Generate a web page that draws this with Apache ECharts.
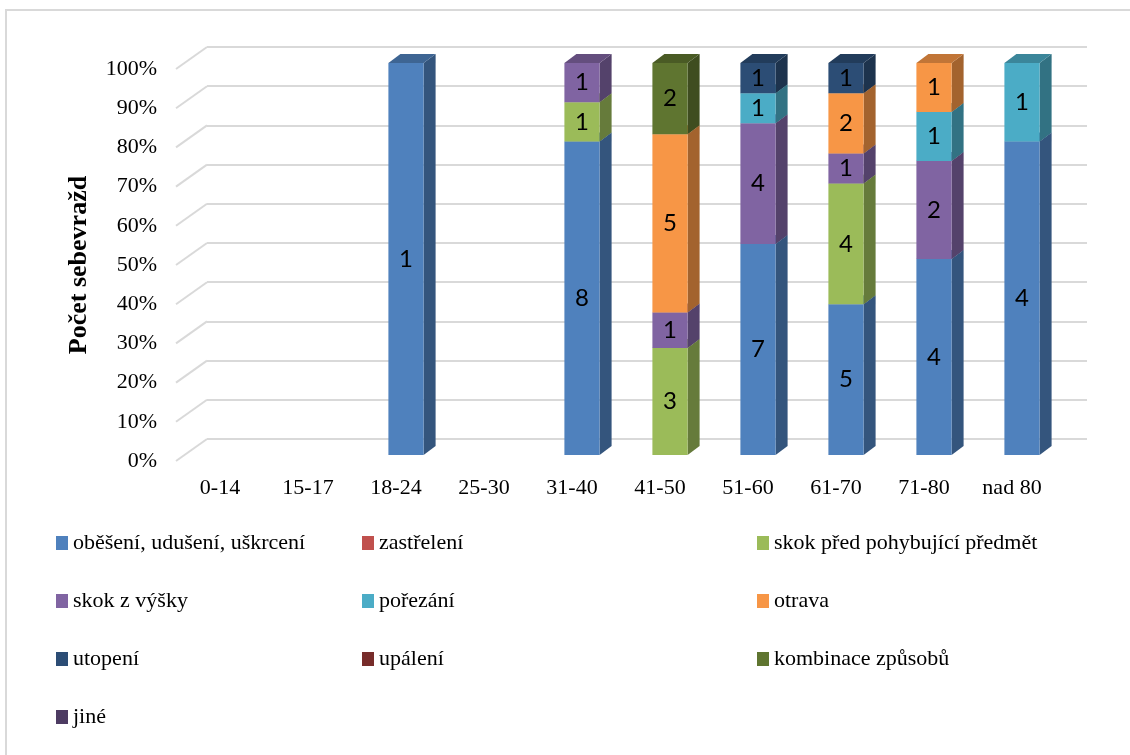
<!DOCTYPE html>
<html>
<head>
<meta charset="utf-8">
<script src="https://cdn.jsdelivr.net/npm/echarts@6/dist/echarts.min.js"></script>
<style>
  html, body { margin: 0; padding: 0; background: #fff; }
  #chart { width: 1130px; height: 755px; }
</style>
</head>
<body>
<div id="chart"></div>
<script>
// Age groups on the horizontal axis
const categories = ['0-14', '15-17', '18-24', '25-30', '31-40', '41-50', '51-60', '61-70', '71-80', 'nad 80'];

// Number of suicides per method and age group
const obeseni      = [0, 0, 1, 0, 8, 0, 7, 5, 4, 4];
const zastreleni   = [0, 0, 0, 0, 0, 0, 0, 0, 0, 0];
const skokPred     = [0, 0, 0, 0, 1, 3, 0, 4, 0, 0];
const skokZVysky   = [0, 0, 0, 0, 1, 1, 4, 1, 2, 0];
const porezani     = [0, 0, 0, 0, 0, 0, 1, 0, 1, 1];
const otrava       = [0, 0, 0, 0, 0, 5, 0, 2, 1, 0];
const utopeni      = [0, 0, 0, 0, 0, 0, 1, 1, 0, 0];
const upaleni      = [0, 0, 0, 0, 0, 0, 0, 0, 0, 0];
const kombinace    = [0, 0, 0, 0, 0, 2, 0, 0, 0, 0];
const jine         = [0, 0, 0, 0, 0, 0, 0, 0, 0, 0];

// Percentage axis ticks
const percentTicks = [0, 10, 20, 30, 40, 50, 60, 70, 80, 90, 100];

const methods = [
  { name: 'oběšení, udušení, uškrcení',   values: obeseni,    color: '#4F81BD' },
  { name: 'zastřelení',                   values: zastreleni, color: '#C0504D' },
  { name: 'skok před pohybující předmět', values: skokPred,   color: '#9BBB59' },
  { name: 'skok z výšky',                 values: skokZVysky, color: '#8064A2' },
  { name: 'pořezání',                     values: porezani,   color: '#4BACC6' },
  { name: 'otrava',                       values: otrava,     color: '#F79646' },
  { name: 'utopení',                      values: utopeni,    color: '#2C4D75' },
  { name: 'upálení',                      values: upaleni,    color: '#772C2A' },
  { name: 'kombinace způsobů',            values: kombinace,  color: '#5F7530' },
  { name: 'jiné',                         values: jine,       color: '#4D3B62' }
];

// Totals per age group: every column is stacked as shares of 100 %
const totals = categories.map((_, i) => methods.reduce((s, m) => s + m.values[i], 0));

function shade(hex, f) {
  const n = parseInt(hex.slice(1), 16);
  const r = Math.round(((n >> 16) & 255) * f);
  const g = Math.round(((n >> 8) & 255) * f);
  const b = Math.round((n & 255) * f);
  return 'rgb(' + r + ',' + g + ',' + b + ')';
}

// Pseudo-3D geometry (pixels)
const DEPTH_DX = 12, DEPTH_DY = -9;    // column depth
const WALL_DX = -31, WALL_DY = 22;     // floor depth from back wall to front edge
const BAR_WIDTH = '40%';

const serifFamily = 'Liberation Serif';

// Front faces: ordinary stacked bars, one series per method
const barSeries = methods.map(m => ({
  type: 'bar',
  name: m.name,
  stack: 'share',
  xAxisIndex: 2,
  yAxisIndex: 2,
  barWidth: BAR_WIDTH,
  z: 3,
  itemStyle: { color: m.color },
  data: m.values.map((v, i) => v > 0 ? v / totals[i] * 100 : null)
}));

// Segment extents [category, bottom %, top %, method index, count]
const segments = [];
{
  const cumulative = categories.map(() => 0);
  methods.forEach((m, k) => {
    categories.forEach((c, i) => {
      const v = m.values[i];
      if (v > 0) {
        const lo = cumulative[i] / totals[i] * 100;
        cumulative[i] += v;
        segments.push([i, lo, cumulative[i] / totals[i] * 100, k, v]);
      }
    });
  });
}

function segmentBox(api) {
  const cat = api.value(0);
  const pLo = api.coord([cat, api.value(1)]);
  const pHi = api.coord([cat, api.value(2)]);
  const w = api.size([1, 0])[0] * 0.4;
  const x0 = pLo[0] - w / 2;
  return { x0: x0, x1: x0 + w, yb: pLo[1], yt: pHi[1] };
}

// Side and top faces of every stacked segment (drawn behind the front faces)
const depthSeries = {
  type: 'custom',
  name: 'depth',
  silent: true,
  xAxisIndex: 2,
  yAxisIndex: 2,
  z: 2,
  encode: { x: 0, y: [1, 2] },
  data: segments,
  renderItem: function (params, api) {
    const b = segmentBox(api);
    const color = methods[api.value(3)].color;
    return {
      type: 'group',
      children: [
        { type: 'polygon',
          shape: { points: [[b.x1, b.yb], [b.x1, b.yt], [b.x1 + DEPTH_DX, b.yt + DEPTH_DY], [b.x1 + DEPTH_DX, b.yb + DEPTH_DY]] },
          style: { fill: shade(color, 0.66) } },
        { type: 'polygon',
          shape: { points: [[b.x0, b.yt], [b.x1, b.yt], [b.x1 + DEPTH_DX, b.yt + DEPTH_DY], [b.x0 + DEPTH_DX, b.yt + DEPTH_DY]] },
          style: { fill: shade(color, 0.78) } }
      ]
    };
  }
};

// Count labels in the middle of each segment's front face
const countLabelSeries = {
  type: 'custom',
  name: 'counts',
  silent: true,
  xAxisIndex: 2,
  yAxisIndex: 2,
  z: 4,
  encode: { x: 0, y: [1, 2] },
  data: segments,
  renderItem: function (params, api) {
    const b = segmentBox(api);
    return {
      type: 'text',
      x: (b.x0 + b.x1) / 2,
      y: (b.yb + b.yt) / 2,
      style: { text: String(api.value(4)), align: 'center', verticalAlign: 'middle',
               fontFamily: 'Lato', fontSize: 24, fill: '#000' }
    };
  }
};

// Diagonal floor lines joining the front edge with the back-wall gridlines
const wallSeries = {
  type: 'custom',
  name: 'wall',
  silent: true,
  xAxisIndex: 0,
  yAxisIndex: 0,
  z: 1,
  encode: { x: 0, y: 1 },
  data: percentTicks.map(t => [0, t]),
  renderItem: function (params, api) {
    const p = api.coord([0, api.value(1)]);
    const x = params.coordSys.x;
    return {
      type: 'line',
      shape: { x1: x, y1: p[1], x2: x + WALL_DX, y2: p[1] + WALL_DY },
      style: { stroke: '#d9d9d9', lineWidth: 2 }
    };
  }
};

// Legend: three columns filled row by row, swatch + serif label
const LEGEND_COLUMNS = [56, 362, 757];
const LEGEND_FIRST_ROW = 543, LEGEND_ROW_STEP = 58;
const legendEntries = methods.map((m, k) => {
  const x = LEGEND_COLUMNS[k % 3];
  const y = LEGEND_FIRST_ROW + Math.floor(k / 3) * LEGEND_ROW_STEP;
  return {
    type: 'group',
    silent: true,
    children: [
      { type: 'rect', shape: { x: x, y: y - 7, width: 12, height: 14 }, style: { fill: m.color } },
      { type: 'text', x: x + 17, y: y,
        style: { text: m.name, align: 'left', verticalAlign: 'middle',
                 fontFamily: serifFamily, fontSize: 22, fill: '#000' } }
    ]
  };
});

const option = {
  backgroundColor: '#fff',
  animation: false,
  grid: [
    { left: 207, top: 47, width: 880, height: 392 },   // back wall
    { left: 176, top: 69, width: 880, height: 392 },   // front edge of the floor
    { left: 186, top: 63, width: 880, height: 392 }    // front faces of the columns
  ],
  xAxis: [
    { type: 'category', gridIndex: 0, data: categories, show: false },
    { type: 'category', gridIndex: 1, data: categories,
      axisLine: { show: false }, axisTick: { show: false },
      axisLabel: { margin: 16, fontFamily: serifFamily, fontSize: 22, color: '#000' } },
    { type: 'category', gridIndex: 2, data: categories, show: false }
  ],
  yAxis: [
    { type: 'value', gridIndex: 0, min: 0, max: 100, interval: 10,
      axisLabel: { show: false }, axisLine: { show: false }, axisTick: { show: false },
      splitLine: { show: true, lineStyle: { color: '#d9d9d9', width: 2 } } },
    { type: 'value', gridIndex: 1, min: 0, max: 100, interval: 10,
      axisLine: { show: false }, axisTick: { show: false }, splitLine: { show: false },
      axisLabel: { margin: 19, formatter: '{value}%', fontFamily: serifFamily, fontSize: 22, color: '#000' } },
    { type: 'value', gridIndex: 2, min: 0, max: 100, interval: 10, show: false }
  ],
  graphic: [
    { type: 'rect', silent: true, shape: { x: 6, y: 10, width: 1200, height: 800 },
      style: { fill: 'none', stroke: '#d9d9d9', lineWidth: 2 } },
    { type: 'text', silent: true, x: 79, y: 265, rotation: Math.PI / 2,
      style: { text: 'Počet sebevražd', align: 'center', verticalAlign: 'middle',
               fontFamily: serifFamily, fontWeight: 'bold', fontSize: 26, fill: '#000' } }
  ].concat(legendEntries),
  series: [wallSeries, depthSeries].concat(barSeries, [countLabelSeries])
};

const chart = echarts.init(document.getElementById('chart'), null, { renderer: 'canvas' });
chart.setOption(option);
</script>
</body>
</html>
